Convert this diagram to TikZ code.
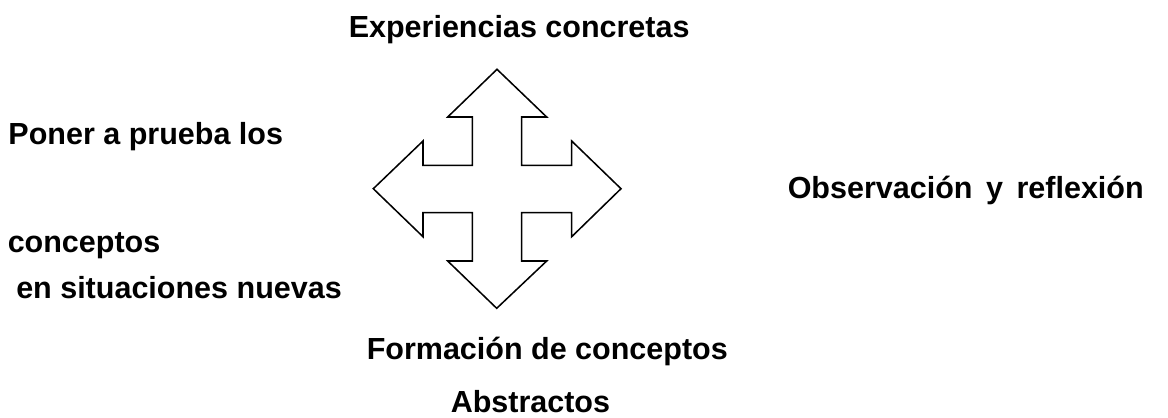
\documentclass[tikz,border=0pt]{standalone}
\usepackage{fontspec}
\setmainfont{Liberation Sans}
\usepackage{tikz}
\usetikzlibrary{positioning}

\begin{document}
\begin{tikzpicture}[x=0.3934pt, y=-0.3934pt, line width=0.6pt,
		lbl/.style={anchor=base west, inner sep=0pt, font=\fontsize{12}{14}\selectfont\bfseries}]
	\useasboundingbox (0,0) rectangle (1168,417);
	
	% cruz de flechas
	\coordinate (centro) at (497,189);
	\draw (497,69.3) -- (546.7,117) -- (521.7,117) -- (521.7,165.3)
	-- (571.7,165.3) -- (571.7,141) -- (621,188.7) -- (571.7,236.7) -- (571.7,212.7)
	-- (521.7,212.7) -- (521.7,261) -- (546.7,261) -- (496.7,308.3) -- (447.7,261)
	-- (472.3,261) -- (472.3,212.7) -- (423,212.7) -- (423,236.7) -- (373.3,188.7)
	-- (423,141) -- (423,165.3) -- (472.3,165.3) -- (472.3,117) -- (447.7,117) -- cycle;
	
	% textos
	\node [lbl] (exper) at (348,37.3) {Experiencias concretas};
	\node [lbl] (poner) at (7.7,144.3) {Poner a prueba los};
	\node [lbl] (conc) at (7,252.3) {conceptos};
	\node [lbl] (situ) at (15.5,298.3) {en situaciones nuevas};
	\node [lbl, text width=356*0.3934pt] (obser) at (787,198.3)
		{Observación \hfill y \hfill reflexión};
	\node [lbl] (form) at (366,359.3) {Formación de conceptos};
	\node [lbl] (abstr) at (450,412.7) {Abstractos};
\end{tikzpicture}
\end{document}
